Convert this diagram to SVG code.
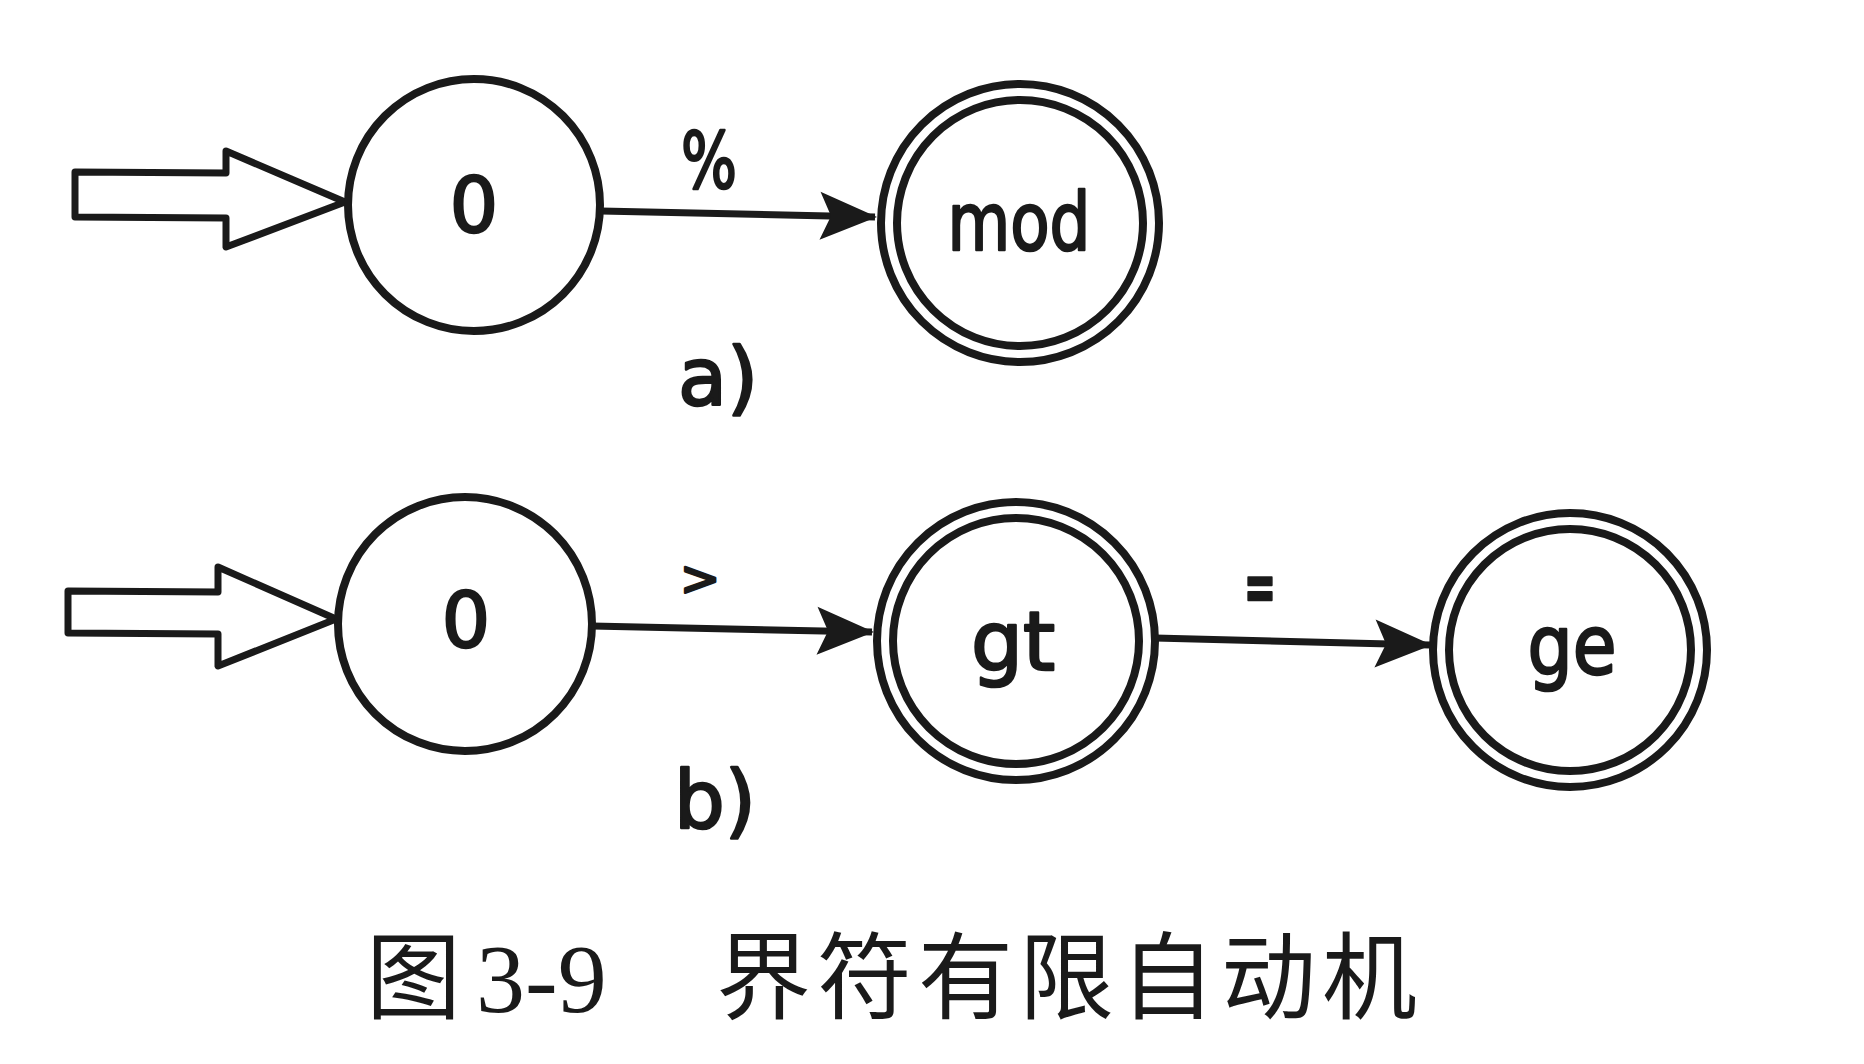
<svg xmlns="http://www.w3.org/2000/svg" width="1864" height="1064" viewBox="0 0 1864 1064">
<defs>
<style>
.st{fill:none;stroke:#1a1a1a;stroke-width:8}
.hollow{fill:#fff;stroke:#1a1a1a;stroke-width:7;stroke-linejoin:round}
.edge{fill:none;stroke:#1a1a1a;stroke-width:7}
.lbl{font-family:"DejaVu Sans","Liberation Sans",sans-serif;fill:#1a1a1a;stroke:#1a1a1a;stroke-width:2.5;stroke-linejoin:round;text-anchor:middle}
.cap{font-family:"Noto Sans CJK SC","Liberation Serif",serif;fill:#1a1a1a;font-size:95px}
</style>
<marker id="ah" markerUnits="userSpaceOnUse" markerWidth="64" markerHeight="56" viewBox="-58 -28 62 56" refX="0" refY="0" orient="auto">
<path d="M2,0 L-55,-24 L-44,0 L-55,24 Z" fill="#1a1a1a"/>
</marker>
</defs>
<rect width="1864" height="1064" fill="#fff"/>

<g id="start-a">
<path class="hollow" d="M75,172 L226,173 L226,151 L345,202 L226,247 L226,218 L75,217 Z"/>
</g>
<g id="node-a0">
<circle class="st" cx="474" cy="205" r="126"/>
<text class="lbl" x="474" y="232" font-size="76">0</text>
</g>
<g id="node-mod">
<circle class="st" cx="1020" cy="223" r="139"/>
<circle class="st" cx="1020" cy="223" r="123"/>
<text class="lbl" x="1019" y="250" font-size="80" textLength="143" lengthAdjust="spacingAndGlyphs">mod</text>
</g>
<text class="lbl" x="718" y="405" font-size="80">a)</text>

<g id="start-b">
<path class="hollow" d="M68,591 L218,592 L218,567 L336,619 L218,666 L218,634 L68,633 Z"/>
</g>
<g id="node-b0">
<circle class="st" cx="465" cy="624" r="127"/>
<text class="lbl" x="466" y="647" font-size="76">0</text>
</g>
<g id="node-gt">
<circle class="st" cx="1016" cy="641" r="139"/>
<circle class="st" cx="1016" cy="641" r="123"/>
<text class="lbl" x="1013" y="670" font-size="82">gt</text>
</g>
<g id="node-ge">
<circle class="st" cx="1570" cy="650" r="137"/>
<circle class="st" cx="1570" cy="650" r="121"/>
<text class="lbl" x="1572" y="674" font-size="82" textLength="89" lengthAdjust="spacingAndGlyphs">ge</text>
</g>
<text class="lbl" x="715" y="828" font-size="80">b)</text>

<g id="edges">
<path class="edge" d="M601,211 L875,217" marker-end="url(#ah)"/>
<text class="lbl" x="709" y="188" font-size="78" textLength="56" lengthAdjust="spacingAndGlyphs">%</text>
<path class="edge" d="M592,626 L872,632" marker-end="url(#ah)"/>
<text class="lbl" x="700" y="595" font-size="48">&gt;</text>
<path class="edge" d="M1155,638 L1430,645" marker-end="url(#ah)"/>
<text class="lbl" x="1260" y="610" font-size="66" font-weight="bold" textLength="32" lengthAdjust="spacingAndGlyphs">=</text>
</g>

<text class="cap" y="1012"><tspan x="366">图</tspan><tspan x="476" font-family="'Liberation Serif',serif" font-size="98">3-9</tspan><tspan x="716" letter-spacing="6">界符有限自动机</tspan></text>
</svg>
